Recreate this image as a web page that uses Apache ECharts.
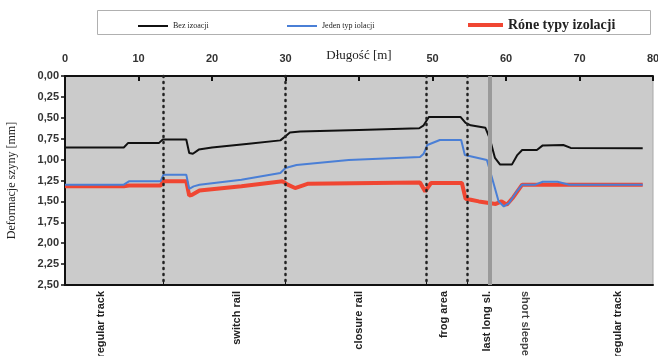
<!DOCTYPE html>
<html>
<head>
<meta charset="utf-8">
<script src="https://cdn.jsdelivr.net/npm/echarts@6/dist/echarts.min.js"></script>
<style>
  html, body { margin: 0; padding: 0; background: #fff; }
  #chart { width: 658px; height: 356px; }
</style>
</head>
<body>
<div id="chart"></div>
<script>
// Series data (x = length [m], y = rail deflection [mm])
const blackX = [0, 8.0, 8.6, 12.8, 13.3, 16.5, 16.9, 17.4, 18.2, 20, 25, 29.3, 30.0, 30.6, 32, 40, 48.2, 48.8, 49.5, 53.8, 54.5, 55.2, 57.2, 57.8, 58.5, 59.2, 60.8, 61.5, 62.2, 64.2, 65.0, 67.8, 68.8, 78.6]
const blackY = [0.855, 0.855, 0.80, 0.80, 0.76, 0.76, 0.92, 0.93, 0.88, 0.855, 0.81, 0.77, 0.72, 0.675, 0.665, 0.645, 0.625, 0.59, 0.49, 0.49, 0.56, 0.59, 0.62, 0.75, 0.98, 1.06, 1.06, 0.95, 0.885, 0.885, 0.83, 0.825, 0.86, 0.865]

const blueX = [0, 8.0, 8.7, 13.0, 13.4, 16.5, 16.9, 17.5, 18.3, 24, 29.3, 30.0, 31.5, 38.6, 48.3, 48.8, 49.3, 51.0, 53.9, 54.4, 57.4, 58.2, 59.0, 59.7, 60.4, 61.4, 62.2, 64.0, 65.0, 67.0, 68.6, 78.6]
const blueY = [1.30, 1.30, 1.26, 1.26, 1.18, 1.18, 1.35, 1.32, 1.30, 1.24, 1.16, 1.10, 1.065, 1.005, 0.97, 0.93, 0.825, 0.765, 0.765, 0.945, 1.005, 1.25, 1.50, 1.56, 1.52, 1.39, 1.30, 1.30, 1.265, 1.265, 1.30, 1.30]

const redX = [0, 8.0, 8.7, 13.0, 13.4, 16.5, 16.9, 17.3, 18.3, 24, 29.6, 30.3, 31.3, 33, 48.3, 49.0, 49.8, 54.0, 54.5, 55.2, 56.3, 58.6, 59.4, 60.1, 61.0, 62.2, 78.6]
const redY = [1.32, 1.32, 1.31, 1.31, 1.26, 1.26, 1.43, 1.42, 1.37, 1.32, 1.26, 1.30, 1.34, 1.29, 1.275, 1.38, 1.28, 1.28, 1.47, 1.48, 1.50, 1.53, 1.50, 1.54, 1.45, 1.30, 1.30]

const seriesNames = ['Bez izoacji', 'Jeden typ iolacji', 'Róne typy izolacji']

// top axis: ticks every 10 m, the 40 label sits under the axis title
const topTicks = [0, 10, 20, 30, 40, 50, 60, 70, 80]
const topLabels = [0, 10, 20, 30, 50, 60, 70, 80]

// section boundaries and section names under the plot
const dottedX = [13.4, 30, 49.1, 54.7]
const greyX = [57.8]
const zoneX = [4.9, 23.4, 40, 51.6, 57.4, 75.2]
const zoneNames = ['regular track', 'switch rail', 'closure rail', 'frog area', 'last long sl.', 'regular track']
const zoneX2 = [62.6]
const zoneNames2 = ['short sleepers']

const pairs = (xs, ys) => xs.map((x, i) => [x, ys[i]])
const nameAt = (xs, names) => v => {
  const i = xs.findIndex(x => Math.abs(x - v) < 1e-6)
  return i >= 0 ? names[i] : ''
}

const chart = echarts.init(document.getElementById('chart'))

const legendBase = {
  top: 17,
  itemWidth: 30,
  icon: 'rect',
  selectedMode: false,
  textStyle: { fontFamily: 'Liberation Serif', fontSize: 8, color: '#222' }
}

const option = {
  animation: false,
  backgroundColor: '#fff',
  graphic: [{
    type: 'rect',
    left: 97, top: 10,
    shape: { width: 553, height: 24 },
    style: { fill: '#fff', stroke: '#b0b0b0', lineWidth: 1 },
    z: -1
  }],
  legend: [
    Object.assign({}, legendBase, { left: 133, itemHeight: 2, data: [seriesNames[0]] }),
    Object.assign({}, legendBase, { left: 282, itemHeight: 2, data: [seriesNames[1]] }),
    Object.assign({}, legendBase, {
      left: 463, top: 13, itemWidth: 35, itemHeight: 4, data: [seriesNames[2]],
      textStyle: { fontFamily: 'Liberation Serif', fontSize: 14, fontWeight: 'bold', color: '#222' }
    })
  ],
  grid: {
    left: 65, right: 5, top: 76, bottom: 71,
    outerBoundsMode: 'none',
    show: true,
    backgroundColor: '#cbcbcb',
    borderColor: '#a8a8a8',
    borderWidth: 1
  },
  xAxis: [
    {
      type: 'value', position: 'top',
      min: 0, max: 80, interval: 10,
      name: 'Długość [m]', nameLocation: 'middle', nameGap: 14, nameMoveOverlap: false,
      nameTextStyle: { fontFamily: 'Liberation Serif', fontSize: 13, color: '#222' },
      axisLine: { onZero: false, lineStyle: { color: '#111', width: 2 } },
      axisTick: { inside: true, length: 5, customValues: topTicks, lineStyle: { color: '#111', width: 2 } },
      axisLabel: {
        customValues: topLabels,
        fontFamily: 'Liberation Sans', fontWeight: 'bold', fontSize: 11, color: '#333', margin: 12
      },
      splitLine: { show: false }
    },
    {
      type: 'value', position: 'bottom',
      min: 0, max: 80,
      axisLine: { onZero: false, lineStyle: { color: '#111', width: 2 } },
      axisTick: { show: true, inside: true, length: 3, customValues: dottedX, lineStyle: { color: '#111' } },
      axisLabel: {
        customValues: zoneX, rotate: 90, margin: 6,
        fontFamily: 'Liberation Sans', fontWeight: 'bold', fontSize: 11, color: '#222',
        formatter: nameAt(zoneX, zoneNames)
      },
      splitLine: { show: false }
    },
    {
      type: 'value', position: 'bottom',
      min: 0, max: 80,
      axisLine: { show: false },
      axisTick: { show: false },
      axisLabel: {
        customValues: zoneX2, rotate: -90, margin: 6,
        fontFamily: 'Liberation Sans', fontWeight: 'bold', fontSize: 11, color: '#444',
        formatter: nameAt(zoneX2, zoneNames2)
      },
      splitLine: { show: false }
    }
  ],
  yAxis: {
    type: 'value', inverse: true,
    min: 0, max: 2.5, interval: 0.25,
    name: 'Deformacje szyny [mm]', nameLocation: 'middle', nameGap: 47, nameMoveOverlap: false,
    nameTextStyle: { fontFamily: 'Liberation Serif', fontSize: 12, color: '#222' },
    axisLine: { show: true, lineStyle: { color: '#111', width: 2 } },
    axisTick: { show: true, length: 4, lineStyle: { color: '#111', width: 1.5 } },
    axisLabel: {
      fontFamily: 'Liberation Sans', fontWeight: 'bold', fontSize: 11, color: '#333', margin: 6,
      formatter: v => v.toFixed(2).replace('.', ',')
    },
    splitLine: { show: false }
  },
  series: [
    {
      name: seriesNames[0], type: 'line', xAxisIndex: 0,
      data: pairs(blackX, blackY),
      showSymbol: false, z: 4,
      color: '#111',
      lineStyle: { color: '#111', width: 2 },
      markLine: {
        silent: true, symbol: 'none', label: { show: false },
        data: [
          ...dottedX.map(x => ({ xAxis: x, lineStyle: { color: '#222', width: 2.5, type: [1, 5], cap: 'round' } })),
          ...greyX.map(x => ({ xAxis: x, lineStyle: { color: '#9a9a9a', width: 4, type: 'solid' } }))
        ]
      }
    },
    {
      name: seriesNames[1], type: 'line', xAxisIndex: 0,
      data: pairs(blueX, blueY),
      showSymbol: false, z: 3,
      color: '#4a7fd6',
      lineStyle: { color: '#4a7fd6', width: 2 }
    },
    {
      name: seriesNames[2], type: 'line', xAxisIndex: 0,
      data: pairs(redX, redY),
      showSymbol: false, z: 2,
      color: '#f04632',
      lineStyle: { color: '#f04632', width: 4 }
    }
  ]
}

chart.setOption(option)
window.addEventListener('resize', () => chart.resize())
</script>
</body>
</html>
